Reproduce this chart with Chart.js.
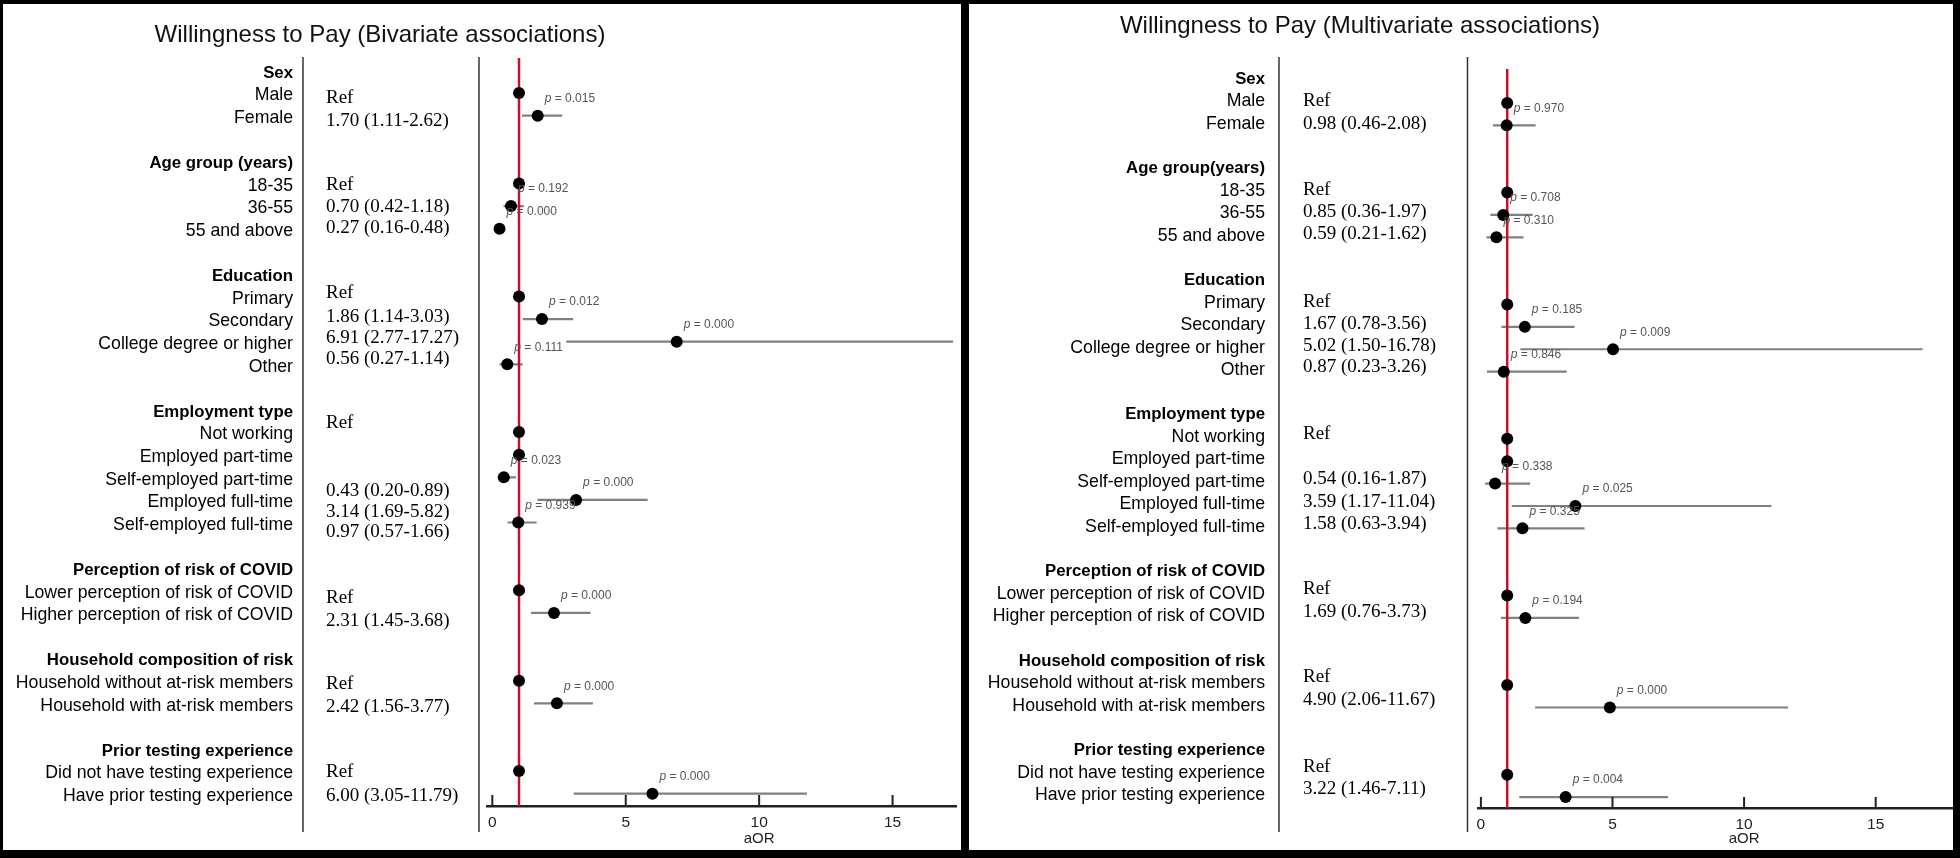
<!DOCTYPE html>
<html>
<head>
<meta charset="utf-8">
<title>Willingness to Pay</title>
<script src="https://cdn.jsdelivr.net/npm/chart.js"></script>
<style>
  html, body { margin: 0; padding: 0; background: #fff; }
  body { width: 1960px; height: 858px; position: relative; overflow: hidden; }
  canvas { position: absolute; top: 0; }
  #chartBi { left: 0; }
  #chartMv { left: 965px; }
  .bar { position: absolute; background: #000; }
</style>
</head>
<body>
<canvas id="chartBi" width="965" height="858"></canvas>
<canvas id="chartMv" width="995" height="858"></canvas>
<div class="bar" style="left:0;top:0;width:1960px;height:4px"></div>
<div class="bar" style="left:0;top:850px;width:1960px;height:8px"></div>
<div class="bar" style="left:0;top:0;width:3px;height:858px"></div>
<div class="bar" style="left:961px;top:0;width:8px;height:858px"></div>
<div class="bar" style="left:1953px;top:0;width:7px;height:858px"></div>
<script>
// rows of the table, top to bottom (empty = spacer row)
const rowLabels = ['Sex', 'Male', 'Female', '',
  'Age group (years)', '18-35', '36-55', '55 and above', '',
  'Education', 'Primary', 'Secondary', 'College degree or higher', 'Other', '',
  'Employment type', 'Not working', 'Employed part-time', 'Self-employed part-time', 'Employed full-time', 'Self-employed full-time', '',
  'Perception of risk of COVID', 'Lower perception of risk of COVID', 'Higher perception of risk of COVID', '',
  'Household composition of risk', 'Household without at-risk members', 'Household with at-risk members', '',
  'Prior testing experience', 'Did not have testing experience', 'Have prior testing experience'];
const rowLabelsMv = rowLabels.map(l => l === 'Age group (years)' ? 'Age group(years)' : l);

const categories = ['Male', 'Female', '18-35', '36-55', '55 and above',
  'Primary', 'Secondary', 'College degree or higher', 'Other',
  'Not working', 'Employed part-time', 'Self-employed part-time', 'Employed full-time', 'Self-employed full-time',
  'Lower perception of risk of COVID', 'Higher perception of risk of COVID',
  'Household without at-risk members', 'Household with at-risk members',
  'Did not have testing experience', 'Have prior testing experience'];

// bivariate
const biOR   = [1, 1.70, 1, 0.70, 0.27, 1, 1.86, 6.91, 0.56, 1, 1, 0.43, 3.14, 0.97, 1, 2.31, 1, 2.42, 1, 6.00];
const biLow  = [null, 1.11, null, 0.42, 0.16, null, 1.14, 2.77, 0.27, null, null, 0.20, 1.69, 0.57, null, 1.45, null, 1.56, null, 3.05];
const biHigh = [null, 2.62, null, 1.18, 0.48, null, 3.03, 17.27, 1.14, null, null, 0.89, 5.82, 1.66, null, 3.68, null, 3.77, null, 11.79];
const biP    = [null, '0.015', null, '0.192', '0.000', null, '0.012', '0.000', '0.111', null, null, '0.023', '0.000', '0.939', null, '0.000', null, '0.000', null, '0.000'];

// multivariate
const mvOR   = [1, 0.98, 1, 0.85, 0.59, 1, 1.67, 5.02, 0.87, 1, 1, 0.54, 3.59, 1.58, 1, 1.69, 1, 4.90, 1, 3.22];
const mvLow  = [null, 0.46, null, 0.36, 0.21, null, 0.78, 1.50, 0.23, null, null, 0.16, 1.17, 0.63, null, 0.76, null, 2.06, null, 1.46];
const mvHigh = [null, 2.08, null, 1.97, 1.62, null, 3.56, 16.78, 3.26, null, null, 1.87, 11.04, 3.94, null, 3.73, null, 11.67, null, 7.11];
const mvP    = [null, '0.970', null, '0.708', '0.310', null, '0.185', '0.009', '0.846', null, null, '0.338', '0.025', '0.325', null, '0.194', null, '0.000', null, '0.004'];

const xTicks = [0, 5, 10, 15];

// where the estimate text sits (row units), as printed in the figure
const biTextRows = [1.22, 2.23, 5.07, 6.04, 6.97, 9.85, 10.9, 11.84, 12.77, 15.6, null, 18.6, 19.53, 20.42, 23.34, 24.36, 27.14, 28.16, 31.04, 32.1];
const mvTextRows = [0.91, 1.94, 4.89, 5.87, 6.85, 9.89, 10.87, 11.85, 12.79, 15.78, null, 17.79, 18.82, 19.8, 22.7, 23.73, 26.64, 27.66, 30.65, 31.64];

const SANS = '"Liberation Sans", Arial, sans-serif';
const SERIF = '"Liberation Serif", "Times New Roman", serif';
Chart.defaults.font.family = SANS;

function panelPlugin(p) {
  return {
    id: 'panel_' + p.key,
    afterDraw(chart) {
      const ctx = chart.ctx;
      const xs = chart.scales.x, ys = chart.scales.y;
      const area = chart.chartArea;
      ctx.save();

      ctx.fillStyle = '#111';
      ctx.font = '24px ' + SANS;
      ctx.textAlign = 'center';
      ctx.textBaseline = 'middle';
      ctx.fillText(p.title, p.titleX, p.titleY);

      ctx.strokeStyle = '#333';
      ctx.lineWidth = 1.5;
      p.sepX.forEach(x => {
        ctx.beginPath();
        ctx.moveTo(x, 57);
        ctx.lineTo(x, 832);
        ctx.stroke();
      });

      // row labels
      ctx.textAlign = 'right';
      ctx.fillStyle = '#000';
      p.labels.forEach((lab, i) => {
        if (!lab) return;
        const isHeader = !categories.includes(lab);
        ctx.font = isHeader ? 'bold 16.8px ' + SANS : '17.7px ' + SANS;
        ctx.fillText(lab, p.labelX, ys.getPixelForValue(i) + p.labelShift);
      });

      // estimate column
      ctx.textAlign = 'left';
      ctx.font = '19px ' + SERIF;
      categories.forEach((c, i) => {
        const r = p.textRows[i];
        if (r === null) return;
        let txt = 'Ref';
        if (p.low[i] !== null) {
          txt = p.or[i].toFixed(2) + ' (' + p.low[i].toFixed(2) + '-' + p.high[i].toFixed(2) + ')';
        }
        ctx.fillText(txt, p.textX, ys.getPixelForValue(r));
      });

      // p values
      ctx.fillStyle = '#555';
      categories.forEach((c, i) => {
        if (!p.pv[i]) return;
        const px = xs.getPixelForValue(p.or[i]) + 7;
        const py = ys.getPixelForValue(p.labels.indexOf(c)) - 17;
        ctx.font = 'italic 12px ' + SANS;
        ctx.fillText('p', px, py);
        const w = ctx.measureText('p').width;
        ctx.font = '12px ' + SANS;
        ctx.fillText(' = ' + p.pv[i], px + w, py);
      });

      // tick marks point up into the plot
      ctx.strokeStyle = '#222';
      ctx.lineWidth = 2;
      xs.ticks.forEach(t => {
        const px = xs.getPixelForValue(t.value);
        ctx.beginPath();
        ctx.moveTo(px, area.bottom);
        ctx.lineTo(px, area.bottom - 11);
        ctx.stroke();
      });

      ctx.fillStyle = '#222';
      ctx.font = '15px ' + SANS;
      ctx.textAlign = 'center';
      ctx.fillText('aOR', xs.getPixelForValue(10), 839);
      ctx.restore();
    }
  };
}

function makeChart(id, p) {
  const yOf = c => p.labels.indexOf(c);
  const dots = categories.map((c, i) => ({ x: p.or[i], y: yOf(c) }));
  const bars = [];
  categories.forEach((c, i) => {
    if (p.low[i] === null) return;
    bars.push({ x: p.low[i], y: yOf(c) }, { x: p.high[i], y: yOf(c) }, { x: null, y: null });
  });

  new Chart(document.getElementById(id).getContext('2d'), {
    type: 'scatter',
    data: {
      datasets: [{
        label: 'aOR',
        data: dots,
        backgroundColor: '#000',
        borderColor: '#000',
        borderWidth: 0,
        pointRadius: 6
      }, {
        type: 'line',
        label: 'null',
        data: [{ x: 1, y: p.yMin }, { x: 1, y: p.yMax }],
        borderColor: '#c8102e',
        borderWidth: 2.5,
        pointRadius: 0
      }, {
        type: 'line',
        label: 'CI',
        data: bars,
        borderColor: '#808080',
        borderWidth: 2.2,
        pointRadius: 0,
        spanGaps: false
      }]
    },
    options: {
      responsive: false,
      animation: false,
      events: [],
      layout: { padding: { left: p.padLeft, right: p.padRight, top: p.padTop, bottom: 0 } },
      scales: {
        x: {
          type: 'linear',
          min: p.xMin,
          max: p.xMax,
          grid: { display: false, drawTicks: false },
          border: { display: true, color: '#222', width: 2.5 },
          afterBuildTicks: s => { s.ticks = xTicks.map(v => ({ value: v })); },
          ticks: { padding: 7, color: '#222', font: { size: 15.5 } },
          afterFit: s => { s.height = 858 - p.axisY; }
        },
        y: {
          type: 'linear',
          reverse: true,
          min: p.yMin,
          max: p.yMax,
          display: false
        }
      },
      plugins: {
        legend: { display: false },
        tooltip: { enabled: false }
      }
    },
    plugins: [panelPlugin(p)]
  });
}

makeChart('chartBi', {
  key: 'bi',
  title: 'Willingness to Pay (Bivariate associations)',
  titleX: 380, titleY: 35,
  labels: rowLabels,
  or: biOR, low: biLow, high: biHigh, pv: biP, textRows: biTextRows,
  labelX: 293, labelShift: 2.5, textX: 326, sepX: [303, 479],
  xMin: -0.2, xMax: 17.4, yMin: -0.553, yMax: 32.545,
  padLeft: 487, padRight: 8.4, padTop: 58, axisY: 806
});

makeChart('chartMv', {
  key: 'mv',
  title: 'Willingness to Pay (Multivariate associations)',
  titleX: 395, titleY: 26,
  labels: rowLabelsMv,
  or: mvOR, low: mvLow, high: mvHigh, pv: mvP, textRows: mvTextRows,
  labelX: 300, labelShift: -1.6, textX: 338, sepX: [314, 502.5],
  xMin: -0.11, xMax: 17.9, yMin: -0.518, yMax: 32.49,
  padLeft: 513, padRight: 8, padTop: 69, axisY: 808
});
</script>
</body>
</html>
